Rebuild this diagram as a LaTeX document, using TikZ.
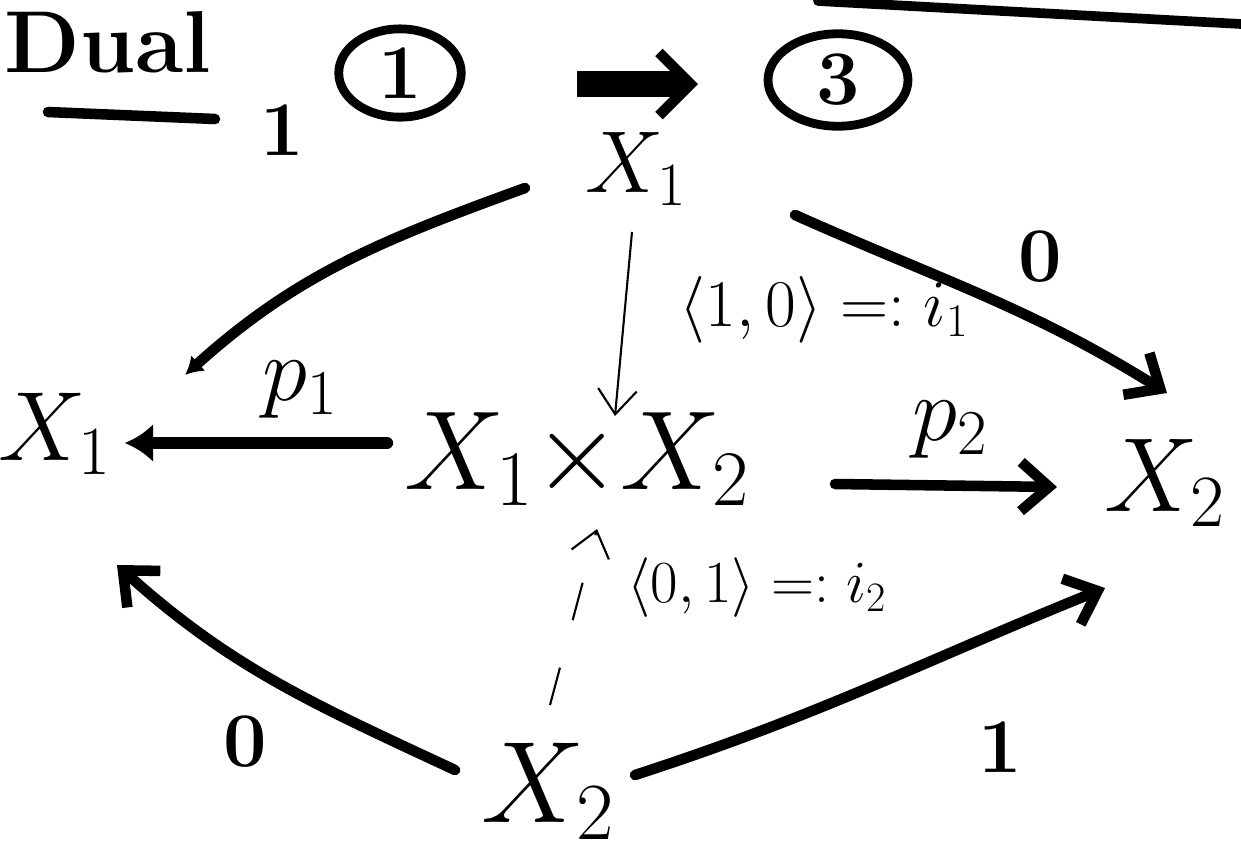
\RequirePackage{fix-cm}
\documentclass[tikz,border=0pt]{standalone}
\usepackage{amsmath}
\usetikzlibrary{arrows.meta,shapes.geometric,calc}

\tikzset{
  obj/.style={font=\fontsize{60}{66}\selectfont, inner sep=1pt, anchor=base},
  num/.style={font=\fontsize{44}{50}\selectfont\bfseries, inner sep=1pt},
  tag/.style={font=\fontsize{34}{40}\selectfont, inner sep=1pt},
  ring/.style={ellipse, draw, line width=5pt, font=\fontsize{44}{48}\selectfont\bfseries},
  fat/.style={line width=6pt, line cap=round, -{Straight Barb[length=16pt,width=28pt]}},
  blob/.style={line width=6pt, line cap=round, -{Latex[length=14pt,width=18pt]}},
  slim/.style={line width=1.2pt, -{Straight Barb[length=14pt,width=22pt]}},
}

\begin{document}
\begin{tikzpicture}[x=0.02cm, y=-0.02cm]
  \useasboundingbox (0,0) rectangle (1241,860);
  % stray stroke along the top edge
  \draw[line width=5.5pt, line cap=round] (818,1) -- (1241,24);

  % heading
  \node[font=\fontsize{50}{56}\selectfont\bfseries] (head) at (108,42) {Dual};
  \draw[line width=6pt, line cap=round] ($(head)+(-60,70)$) -- ($(head)+(107,77)$);
  \node[ring, minimum width=2.45cm, minimum height=1.6cm] (circA) at (400,73) {1};
  \node[ring, minimum width=2.8cm, minimum height=1.85cm] (circB) at (838,80) {3};
  \draw[line width=15pt, -{Straight Barb[length=18pt,width=36pt,line width=6pt]}]
    ($(circA)+(177,11)$) -- ($(circB)+(-140,4)$);

  % objects
  \node[obj, font=\fontsize{50}{56}\selectfont] (top) at (636,192) {$X_1$};
  \node[obj, font=\fontsize{56}{62}\selectfont] (x1l) at (55,460) {$X_1$};
  \node[obj, font=\fontsize{64}{70}\selectfont] (prod) at (577,489) {$X_1{\times}X_2$};
  \node[obj] (x2r) at (1165,511) {$X_2$};
  \node[obj, font=\fontsize{66}{72}\selectfont] (x2b) at (548,822) {$X_2$};

  % arrows
  \draw[blob, -{Latex[length=10pt,width=12pt]}] ($(top.base)+(-111,-4)$) to[out=200,in=42] ($(x1l.base)+(130,-85)$);
  \draw[fat] ($(top.base)+(159,23)$) to[out=-24,in=148] ($(x2r.base)+(2,-118)$);
  \draw[slim] ($(top.base)+(-4,40)$) -- ($(prod.base)+(38,-73)$);
  \draw[blob, line width=7pt, -{Latex[length=16pt,width=22pt]}] ($(prod.base)+(-190,-46)$) -- ($(x1l.base)+(70,-17)$);
  \draw[fat] ($(prod.base)+(258,-5)$) -- ($(x2r.base)+(-108,-24)$);
  \draw[slim, dash pattern=on 22pt off 28pt] ($(x2b.base)+(2,-117)$) -- ($(prod.base)+(20,40)$);
  \draw[fat] ($(x2b.base)+(-93,-52)$) to[out=155,in=-42] ($(x1l.base)+(62,105)$);
  \draw[fat] ($(x2b.base)+(87,-47)$) to[out=18,in=-158] ($(x2r.base)+(-60,77)$);

  % labels
  \node[num] (l1) at (282,130) {1};
  \node[num] (l2) at (1040,257) {0};
  \node[num, font=\fontsize{52}{58}\selectfont] (l3) at (300,390) {$p_1$};
  \node[num, font=\fontsize{52}{58}\selectfont] (l4) at (950,430) {$p_2$};
  \node[num] (l5) at (245,742) {0};
  \node[num] (l6) at (1000,747) {1};
  \node[tag, font=\fontsize{38}{44}\selectfont] (l7) at (824,310) {$\langle 1,0\rangle =: i_1$};
  \node[tag] (l8) at (757,588) {$\langle 0,1\rangle =: i_2$};
\end{tikzpicture}
\end{document}
